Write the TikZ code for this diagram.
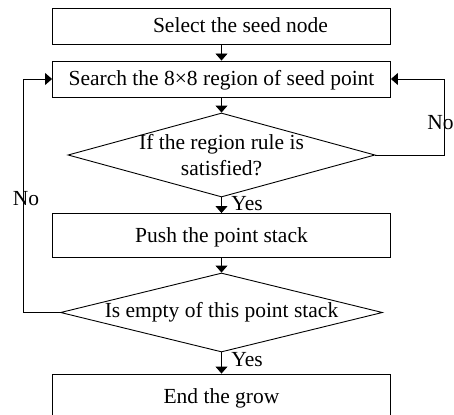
\documentclass[tikz,border=0pt]{standalone}
\usepackage{fontspec}
\setmainfont{Liberation Serif}
\usetikzlibrary{shapes.geometric,arrows.meta,positioning}
\tikzset{>={Triangle[length=7pt,width=12pt]}}
\tikzset{
  stepbox/.style={draw,line width=0.9pt,minimum width=338pt,inner sep=0pt,text height=15pt,text depth=1pt},
  test/.style={draw,diamond,line width=0.9pt,inner sep=0pt},
  lbl/.style={inner sep=0pt}
}

\begin{document}
\begin{tikzpicture}[x=1pt,y=-1pt,line width=0.9pt,every node/.style={font=\fontsize{21.5}{26.7}\selectfont}]
\useasboundingbox (0,0) rectangle (454,414);
\clip (0,0) rectangle (454,414);
\node[stepbox,minimum height=36pt] (select) at (221.5,26) {\hspace*{38pt}Select the seed node};
\node[stepbox,minimum height=36pt] (search) at (221.5,79) {Search the 8×8 region of seed point};
\node[test,minimum width=307pt,minimum height=84pt,label={[align=center]center:{If the region rule is\\satisfied?}}] (rule) at (221.5,155) {};
\node[stepbox,minimum height=44pt] (push) at (221.5,235.5) {Push the point stack};
\node[test,minimum width=322pt,minimum height=79pt,label={center:Is empty of this point stack}] (empty) at (221.5,312.5) {};
\node[stepbox,minimum height=44pt] (grow) at (221.5,396) {End the grow};
\draw[->] (select) -- (search);
\draw[->] (search) -- (rule);
\draw[->] (rule) -- (push);
\draw[->] (push) -- (empty);
\draw[->] (empty) -- (grow);
\draw[->] (rule.east) -- ++(69,0) |- (search.east);
\draw[->] (empty.west) -- ++(-37,0) |- (search.west);
\node[lbl,anchor=base west] (no1) at (427,130) {No};
\node[lbl,anchor=base west] (no2) at (12.5,205) {No};
\node[lbl,anchor=base west] (yes1) at (231,210) {Yes};
\node[lbl,anchor=base west] (yes2) at (231,366.7) {Yes};
\end{tikzpicture}
\end{document}
